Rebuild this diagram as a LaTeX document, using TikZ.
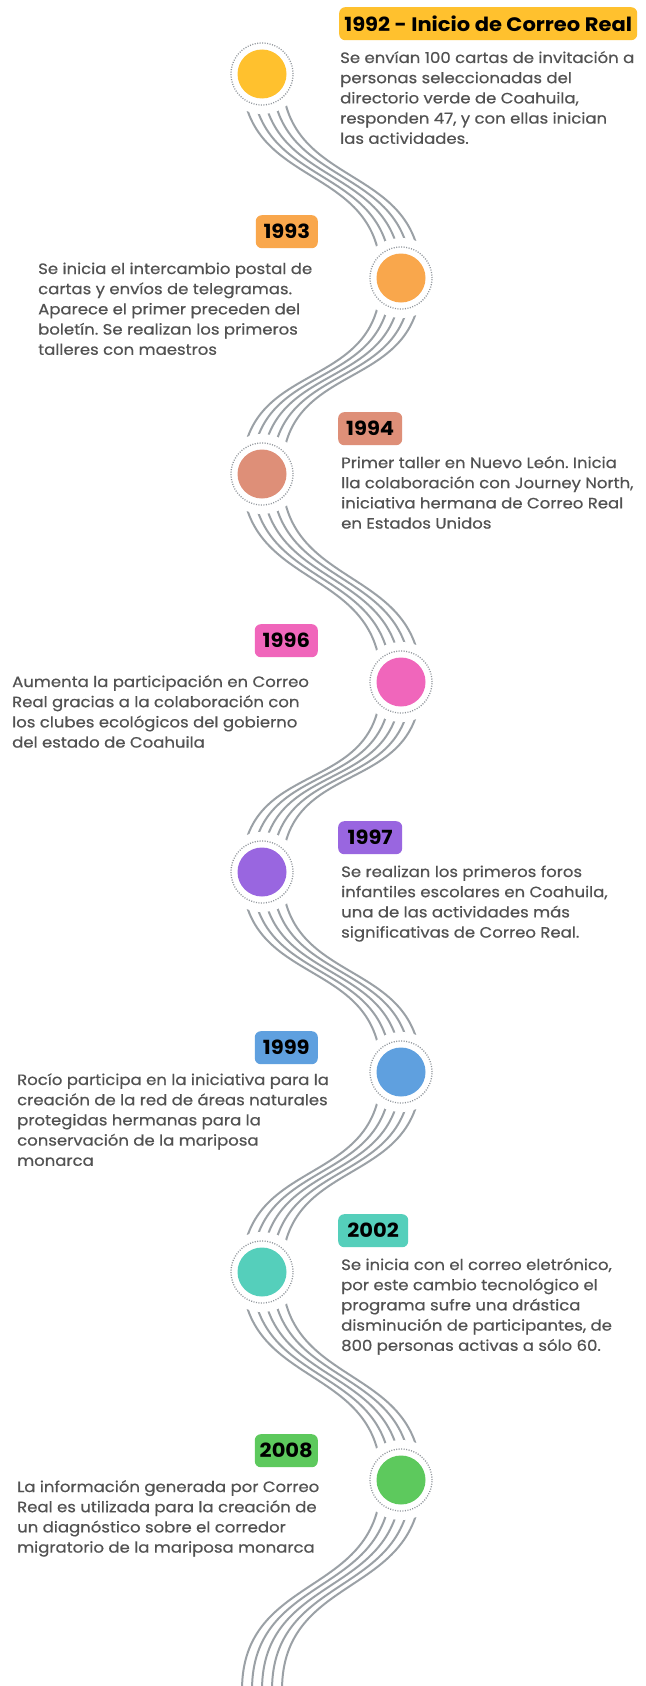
\documentclass[tikz,border=0pt]{standalone}
\usepackage{fontspec}
\setmainfont{Poppins}[FakeStretch=1.1,FakeBold=0.5]
\newfontfamily\yearfont{Poppins}[FakeStretch=1.08]
\frenchspacing
\definecolor{cA}{HTML}{FFC12E}
\definecolor{cB}{HTML}{F9A74C}
\definecolor{cC}{HTML}{DE8F78}
\definecolor{cD}{HTML}{F066BB}
\definecolor{cE}{HTML}{9966E0}
\definecolor{cF}{HTML}{5FA0DF}
\definecolor{cG}{HTML}{55CFBB}
\definecolor{cH}{HTML}{5DC95D}
\definecolor{wavecol}{HTML}{9BA1A6}
\definecolor{ringcol}{HTML}{8F949A}
\definecolor{bodycol}{HTML}{525252}
\tikzset{
  wave/.style={draw=wavecol, line width=2pt},
  halo/.style={circle, fill=white, minimum size=80pt, inner sep=0pt},
  ringnode/.style={circle, draw=ringcol, line width=1.3pt, dash pattern=on 1pt off 1.5pt, minimum size=62pt, inner sep=0pt},
  dotnode/.style={circle, minimum size=49pt, inner sep=0pt},
  yearbox/.style={rounded corners=6pt, minimum height=33pt, inner sep=0pt, text=black, font=\yearfont\fontsize{19.5}{19.5}\selectfont\bfseries},
  bodytext/.style={anchor=base west, inner sep=0pt, text=bodycol, font=\fontsize{15}{20.2}\selectfont\frenchspacing}
}
\begin{document}
\begin{tikzpicture}[x=1pt,y=-1pt]
\fill[white] (0,0) rectangle (645,1686);
\useasboundingbox (0,0) rectangle (645,1686);
\coordinate (p1) at (262,74);
\coordinate (p2) at (401,278);
\coordinate (p3) at (262,474);
\coordinate (p4) at (401,682);
\coordinate (p5) at (262,872);
\coordinate (p6) at (401,1072);
\coordinate (p7) at (262,1272);
\coordinate (p8) at (401,1480);
\coordinate (p9) at (262,1690);
\begin{scope}
\clip (0,0) rectangle (645,1686);
\foreach \a/\b in {p1/p2,p2/p3,p3/p4,p4/p5,p5/p6,p6/p7,p7/p8,p8/p9}
  \foreach \d in {-20,-10,0,10,20}
    \draw[wave] ([xshift=\d pt]\a) .. controls +(0,118) and +(0,-118) .. ([xshift=\d pt]\b);
\end{scope}
\foreach \p/\c [count=\i] in {p1/cA,p2/cB,p3/cC,p4/cD,p5/cE,p6/cF,p7/cG,p8/cH}{
  \node[halo] (h\i) at (\p) {};
  \node[ringnode] (r\i) at (\p) {};
  \node[dotnode, fill=\c] (c\i) at (\p) {};
}
% year labels
\node[yearbox, fill=cA, minimum width=298pt, anchor=north west] (y1) at (339,7) {1992 - Inicio de Correo Real};
\node[yearbox, fill=cB, minimum width=62pt, anchor=north east] (y2) at (318,215) {1993};
\node[yearbox, fill=cC, minimum width=64pt, anchor=north west] (y3) at (338,412) {1994};
\node[yearbox, fill=cD, minimum width=63pt, anchor=north east] (y4) at (318,624) {1996};
\node[yearbox, fill=cE, minimum width=64pt, anchor=north west] (y5) at (338,821) {1997};
\node[yearbox, fill=cF, minimum width=63pt, anchor=north east] (y6) at (318,1031) {1999};
\node[yearbox, fill=cG, minimum width=70pt, anchor=north west] (y7) at (338,1214) {2002};
\node[yearbox, fill=cH, minimum width=63pt, anchor=north east] (y8) at (318,1434) {2008};
% body texts
\node[bodytext] (t1) at (340,63) {\parbox[t]{310pt}{\raggedright Se envían 100 cartas de invitación a\\personas seleccionadas del\\directorio verde de Coahuila,\\responden 47, y con ellas inician\\las actividades.}};
\node[bodytext] (t2) at (38,274) {\parbox[t]{310pt}{\raggedright Se inicia el intercambio postal de\\cartas y envíos de telegramas.\\Aparece el primer preceden del\\boletín. Se realizan los primeros\\talleres con maestros}};
\node[bodytext] (t3) at (341,468) {\parbox[t]{310pt}{\raggedright Primer taller en Nuevo León. Inicia\\lla colaboración con Journey North,\\iniciativa hermana de Correo Real\\en Estados Unidos}};
\node[bodytext] (t4) at (12,687) {\parbox[t]{310pt}{\raggedright Aumenta la participación en Correo\\Real gracias a la colaboración con\\los clubes ecológicos del gobierno\\del estado de Coahuila}};
\node[bodytext] (t5) at (341,877) {\parbox[t]{310pt}{\raggedright Se realizan los primeros foros\\infantiles escolares en Coahuila,\\una de las actividades más\\significativas de Correo Real.}};
\node[bodytext] (t6) at (17,1085) {\parbox[t]{330pt}{\raggedright Rocío participa en la iniciativa para la\\creación de la red de áreas naturales\\protegidas hermanas para la\\conservación de la mariposa\\monarca}};
\node[bodytext] (t7) at (341,1270) {\parbox[t]{310pt}{\raggedright Se inicia con el correo eletrónico,\\por este cambio tecnológico el\\programa sufre una drástica\\disminución de participantes, de\\800 personas activas a sólo 60.}};
\node[bodytext] (t8) at (17,1492) {\parbox[t]{310pt}{\raggedright La información generada por Correo\\Real es utilizada para la creación de\\un diagnóstico sobre el corredor\\migratorio de la mariposa monarca}};
\end{tikzpicture}
\end{document}
